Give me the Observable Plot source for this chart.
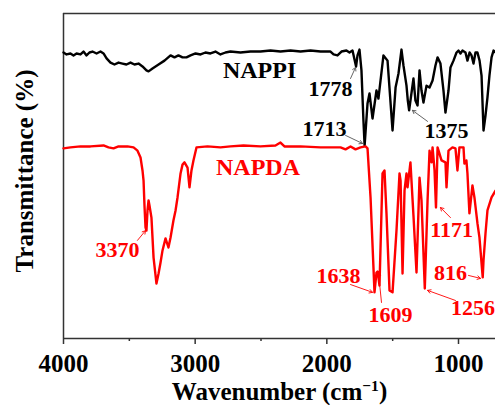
<!DOCTYPE html>
<html><head><meta charset="utf-8">
<script src="https://cdn.jsdelivr.net/npm/d3@7"></script>
<script src="https://cdn.jsdelivr.net/npm/@observablehq/plot@0.6"></script>
<style>
body{margin:0;background:#fff;overflow:hidden}
svg text{font-family:"Liberation Serif","Times New Roman",serif;font-weight:bold}
</style></head><body><div id="chart"></div><script>
// NAPPI spectrum (wavenumber, cm-1 ; transmittance, a.u.)
const wnNAPPI = [4000,3977,3947,3924,3901,3871,3848,3825,3803,3780,3749,3719,3696,3673,3643,3613,3582,3552,3522,3491,3461,3430,3400,3370,3354,3324,3278,3233,3187,3157,3127,3096,3066,3035,2997,2959,2922,2884,2846,2808,2770,2732,2656,2580,2504,2428,2352,2276,2200,2124,2048,1972,1949,1919,1889,1851,1828,1805,1778,1767,1752,1737,1722,1713,1691,1676,1653,1623,1608,1570,1539,1501,1478,1456,1433,1418,1395,1385,1375,1342,1327,1311,1296,1281,1266,1243,1220,1197,1175,1159,1137,1114,1099,1076,1061,1038,1015,1000,985,970,947,932,916,901,886,871,856,840,825,810,795,780,765,749,734,719];
const tNAPPI = [88.0,87.4,87.7,87.1,87.7,87.4,88.3,87.1,88.0,88.3,87.7,88.3,87.7,86.2,84.9,84.3,84.9,84.6,84.3,84.9,84.3,84.6,83.7,82.5,82.2,83.1,84.3,85.5,87.1,86.5,87.1,86.5,86.5,87.1,87.7,87.4,88.0,87.7,88.3,87.4,88.0,88.3,88.0,88.3,88.3,88.6,88.3,88.6,88.3,88.6,88.3,88.3,87.4,87.1,88.3,88.6,88.0,88.6,83.7,87.1,88.9,82.5,67.1,59.4,72.3,75.4,67.7,76.3,73.8,87.1,85.5,64.0,77.2,81.5,88.9,84.0,77.8,73.2,70.2,80.0,73.2,71.7,82.5,76.3,72.6,77.8,77.2,79.4,84.0,86.5,84.6,76.3,69.5,76.3,83.4,85.5,88.0,88.6,87.7,88.6,88.0,85.5,88.0,87.1,84.6,88.0,88.0,85.5,80.9,64.0,68.6,74.2,80.9,86.5,88.6,88.0];

// NAPDA spectrum
const wnNAPDA = [4000,3947,3871,3795,3696,3658,3620,3582,3514,3468,3438,3415,3400,3392,3385,3377,3370,3362,3354,3347,3332,3316,3294,3278,3263,3248,3225,3203,3187,3165,3149,3134,3111,3096,3081,3058,3043,3028,3013,2990,2906,2808,2732,2633,2504,2390,2352,2322,2200,2048,1896,1858,1820,1782,1744,1706,1691,1668,1638,1623,1615,1609,1600,1577,1562,1547,1524,1501,1471,1448,1440,1425,1410,1395,1387,1365,1342,1319,1296,1281,1256,1235,1220,1205,1197,1182,1171,1159,1129,1099,1091,1076,1046,1023,1008,993,962,955,940,932,917,894,879,856,841,816,810,795,780,749,719];
const tNAPDA = [58.5,58.8,59.1,59.1,59.4,58.8,58.5,59.1,59.1,58.8,57.8,55.7,51.7,48.6,40.9,34.2,33.2,39.4,42.5,40.9,37.2,24.9,16.9,20.0,23.4,27.1,30.8,28.0,31.1,36.3,39.4,43.4,50.8,53.5,54.2,52.6,46.5,51.7,54.8,58.8,59.1,58.8,59.1,59.4,59.1,59.4,60.3,59.1,59.1,58.8,58.8,58.2,59.1,58.2,58.8,59.1,58.5,43.4,14.2,20.3,20.6,19.1,16.3,50.8,51.7,38.5,14.8,14.2,33.2,50.8,48.6,20.0,45.5,50.8,46.5,54.2,37.8,20.3,49.5,42.5,15.4,42.5,57.8,54.2,58.8,51.7,40.3,58.8,54.8,54.2,46.5,57.8,58.8,58.5,51.7,58.8,58.8,53.8,54.8,50.8,38.5,47.1,43.4,35.4,31.1,18.8,24.0,32.3,39.4,43.4,45.5];

// series names
const seriesNames = ["NAPPI","NAPDA"];
const seriesColors = ["#000000","#ff0000"];
const seriesLabelX = [2511, 2523];
const seriesLabelY = [82.5, 52.6];

// peak annotations
const peakLabels = ["1778","1713","1375","3370","1638","1609","1256","816","1171"];
const peakSeries = ["NAPPI","NAPPI","NAPPI","NAPDA","NAPDA","NAPDA","NAPDA","NAPDA","NAPDA"];
const peakTextX = [1972, 2018, 1091, 3590, 1911, 1516, 890, 1061, 1053];
const peakTextY = [76.9, 64.6, 64.0, 27.1, 19.1, 7.1, 9.5, 20.3, 33.5];
const arrowX1 = [1820, 1858, 1235, 3438, 1820, 1585, 1023, 924, 1061];
const arrowY1 = [80.0, 62.5, 66.8, 30.2, 16.6, 11.1, 11.7, 19.4, 37.2];
const arrowX2 = [1782, 1729, 1350, 3377, 1653, 1608, 1235, 833, 1137];
const arrowY2 = [83.4, 60.0, 70.2, 33.2, 14.2, 20.3, 14.8, 18.5, 40.3];

// axis ticks
const majorTicks = [4000, 3000, 2000, 1000];
const minorTicks = [3500, 2500, 1500];

const nappi = wnNAPPI.map((w, i) => ({wn: w, t: tNAPPI[i]}));
const napda = wnNAPDA.map((w, i) => ({wn: w, t: tNAPDA[i]}));
const colorOf = s => seriesColors[seriesNames.indexOf(s)];
const peaks = peakLabels.map((l, i) => ({
  label: l, color: colorOf(peakSeries[i]),
  arrowColor: peakSeries[i] === "NAPPI" ? "#555" : "#ff0000",
  tx: peakTextX[i], ty: peakTextY[i],
  x1: arrowX1[i], y1: arrowY1[i], x2: arrowX2[i], y2: arrowY2[i]
}));
const seriesLabels = seriesNames.map((s, i) => ({name: s, color: seriesColors[i], x: seriesLabelX[i], y: seriesLabelY[i]}));

const frameColor = "#333";
const chart = Plot.plot({
  width: 495, height: 405,
  marginTop: 13, marginBottom: 67, marginLeft: 63, marginRight: 0,
  x: {domain: [4000, 719], axis: null},
  y: {domain: [0, 100], axis: null},
  style: {background: "white", overflow: "visible"},
  marks: [
    Plot.ruleX([4000], {stroke: frameColor, strokeWidth: 1.5}),
    Plot.ruleY([0, 100], {stroke: frameColor, strokeWidth: 1.5}),
    Plot.axisX(majorTicks, {anchor: "bottom", tickSize: 6, tickFormat: () => "", label: null, stroke: frameColor, strokeWidth: 1.5}),
    Plot.axisX(minorTicks, {anchor: "bottom", tickSize: 3, tickFormat: () => "", label: null, stroke: frameColor, strokeWidth: 1.5}),
    Plot.text(majorTicks, {x: d => d, frameAnchor: "bottom", lineAnchor: "middle", dy: 25, text: d => String(d), fontSize: 25, fill: "black"}),
    Plot.line(nappi, {x: "wn", y: "t", stroke: seriesColors[0], strokeWidth: 2.4}),
    Plot.line(napda, {x: "wn", y: "t", stroke: seriesColors[1], strokeWidth: 2.4}),
    Plot.arrow(peaks, {x1: "x1", y1: "y1", x2: "x2", y2: "y2", stroke: "arrowColor", strokeWidth: 0.9, headLength: 6}),
    Plot.text(peaks, {x: "tx", y: "ty", text: "label", fill: "color", fontSize: 22}),
    Plot.text(seriesLabels, {x: "x", y: "y", text: "name", fill: "color", fontSize: 24}),
    Plot.text(["Transmittance (%)"], {frameAnchor: "left", textAnchor: "middle", rotate: -90, dx: -39, dy: -5, fontSize: 25, fill: "black"}),
    Plot.text(["Wavenumber (cm-1)"], {frameAnchor: "bottom", lineAnchor: "middle", dy: 53, fontSize: 25, fill: "black"})
  ]
});
document.getElementById("chart").appendChild(chart);
d3.select(chart).selectAll("text").filter(function() { return this.textContent === "Wavenumber (cm-1)"; })
  .each(function() {
    const t = d3.select(this);
    t.text(null);
    t.append("tspan").text("Wavenumber (cm");
    t.append("tspan").attr("dy", "-0.55em").attr("font-size", "0.62em").text("\u22121");
    t.append("tspan").attr("dy", "0.34em").text(")");
  });
</script></body></html>
